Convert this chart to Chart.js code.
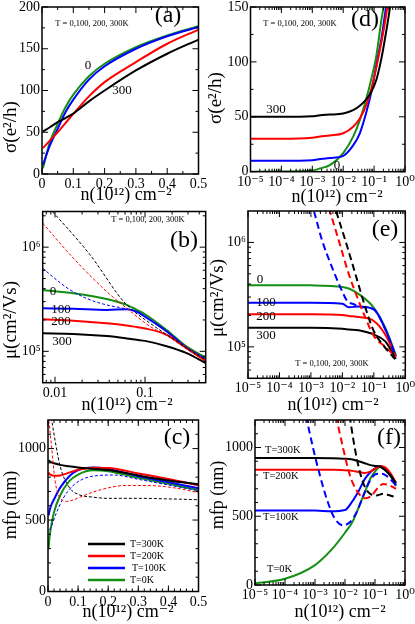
<!DOCTYPE html>
<html>
<head>
<meta charset="utf-8">
<script src="https://cdn.jsdelivr.net/npm/chart.js@4.4.0/dist/chart.umd.min.js"></script>
<style>
  html, body { margin: 0; padding: 0; background: #fff; }
  #wrap { position: relative; width: 415px; height: 624px; }
  #wrap canvas { position: absolute; left: 0; top: 0; }
</style>
</head>
<body>
<div id="wrap">
  <canvas id="ca" width="415" height="624"></canvas>
  <canvas id="cb" width="415" height="624"></canvas>
  <canvas id="cc" width="415" height="624"></canvas>
  <canvas id="cd" width="415" height="624"></canvas>
  <canvas id="ce" width="415" height="624"></canvas>
  <canvas id="cf" width="415" height="624"></canvas>
</div>
<script>
// ---- data ----

// (a) conductivity, linear n
const nA = [0.003, 0.025, 0.05, 0.075, 0.1, 0.15, 0.2, 0.3, 0.4, 0.5];
const sigA0 = [7, 38, 60, 80, 95, 117, 132, 152, 166, 177];
const sigA100 = [11, 34, 54, 74, 89, 113, 129, 150, 165, 176];
const sigA200 = [31, 40, 50, 61, 72, 93, 110, 134, 156, 173];
const sigA300 = [51, 56, 62, 67, 72.5, 87, 100, 124, 144, 161];

// (d) conductivity, log n
const nD = [1e-5, 1e-4, 1e-3, 0.0018, 0.0037, 0.01, 0.021, 0.0345, 0.0566, 0.082, 0.119, 0.172, 0.237, 0.32, 0.5];
const sigD0 = [0, 0.1, 1, 3, 6, 17, 32, 47, 67, 85, 106, 138, 162, 190, 230];
const sigD100 = [10, 10, 10.5, 11.5, 12.5, 14.5, 24, 35, 54.5, 73, 97, 121, 148, 175, 220];
const sigD200 = [30, 30, 31, 32, 33, 35, 41, 48.5, 61, 76, 95.5, 118, 140, 165, 210];
const sigD300 = [50, 50, 50.5, 51.5, 52, 53, 56, 60, 66, 73, 84, 103, 125, 148, 195];

// (b) mobility, solid
const nB = [0.0073, 0.016, 0.0375, 0.0627, 0.081, 0.1, 0.174, 0.29, 0.472];
const muB0 = [3.89e5, 3.61e5, 3.18e5, 2.79e5, 2.5e5, 2.27e5, 1.60e5, 1.11e5, 8.7e4];
const muB100 = [2.59e5, 2.56e5, 2.50e5, 2.54e5, 2.40e5, 2.15e5, 1.55e5, 1.08e5, 8.4e4];
const muB200 = [2.03e5, 1.97e5, 1.86e5, 1.77e5, 1.71e5, 1.66e5, 1.44e5, 1.07e5, 8.1e4];
const muB300 = [1.49e5, 1.47e5, 1.40e5, 1.33e5, 1.29e5, 1.26e5, 1.12e5, 9.6e4, 7.7e4];
// (b) dashed
const nBd100 = [0.0073, 0.0104, 0.0147, 0.0245, 0.0375, 0.0575, 0.081, 0.1, 0.174, 0.29, 0.472];
const muBd100 = [6.29e5, 4.85e5, 3.89e5, 3.12e5, 2.79e5, 2.59e5, 2.40e5, 2.15e5, 1.55e5, 1.08e5, 8.4e4];
const nBd200 = [0.0073, 0.016, 0.0375, 0.0627, 0.114, 0.174, 0.29, 0.472];
const muBd200 = [1.70e6, 7.83e5, 3.75e5, 2.59e5, 1.73e5, 1.42e5, 1.05e5, 8.0e4];
const nBd300 = [0.0073, 0.0245, 0.06, 0.114, 0.207, 0.33, 0.472];
const muBd300 = [2.8e6, 8.44e5, 2.9e5, 1.86e5, 1.31e5, 1.0e5, 8.3e4];

// (e) mobility, log n, solid
const nE = [1e-5, 1e-4, 1e-3, 0.01, 0.016, 0.033, 0.1, 0.232, 0.5];
const muE0 = [3.89e5, 3.89e5, 3.88e5, 3.75e5, 3.62e5, 3.2e5, 2.37e5, 1.52e5, 8.4e4];
const muE100 = [2.65e5, 2.65e5, 2.65e5, 2.59e5, 2.4e5, 2.43e5, 2.28e5, 1.47e5, 8.1e4];
const muE200 = [2.05e5, 2.05e5, 2.05e5, 2.02e5, 1.98e5, 1.93e5, 1.77e5, 1.31e5, 8.1e4];
const muE300 = [1.52e5, 1.52e5, 1.52e5, 1.49e5, 1.47e5, 1.44e5, 1.31e5, 1.13e5, 7.7e4];
// (e) dashed
const nEd100 = [1e-3, 1.24e-3, 2.28e-3, 4.72e-3, 0.00975, 0.0142, 0.023, 0.033, 0.1, 0.232, 0.5];
const muEd100 = [2.5e6, 2.01e6, 1.04e6, 5.75e5, 3.43e5, 2.75e5, 2.56e5, 2.43e5, 2.28e5, 1.47e5, 8.1e4];
const nEd200 = [0.003, 0.004, 0.0077, 0.016, 0.033, 0.054, 0.1, 0.232, 0.5];
const muEd200 = [2.7e6, 2.0e6, 1.04e6, 4.97e5, 2.75e5, 1.9e5, 1.27e5, 1.0e5, 8.0e4];
const nEd300 = [0.005, 0.0063, 0.0125, 0.026, 0.054, 0.1, 0.232, 0.5];
const muEd300 = [2.5e6, 2.0e6, 1.04e6, 4.97e5, 2.37e5, 1.41e5, 9.8e4, 7.5e4];

// (c) mean free path, linear n
const nC = [0.002, 0.005, 0.01, 0.02, 0.04, 0.07, 0.1, 0.15, 0.2, 0.3, 0.4, 0.5];
const mfpC0 = [301, 380, 450, 555, 670, 770, 818, 848, 842, 795, 754, 708];
const mfpC100 = [532, 565, 600, 645, 725, 805, 850, 868, 858, 806, 765, 722];
const mfpC200 = [833, 822, 815, 810, 812, 832, 852, 866, 864, 826, 787, 743];
const mfpC300 = [919, 912, 905, 897, 886, 876, 867, 858, 850, 812, 777, 750];
const nCd100 = [0.005, 0.01, 0.025, 0.05, 0.08, 0.12, 0.17, 0.22, 0.3, 0.4, 0.5];
const mfpCd100 = [430, 450, 535, 650, 735, 790, 812, 815, 785, 745, 705];
const nCd200 = [0.001, 0.012, 0.023, 0.04, 0.062, 0.09, 0.118, 0.18, 0.26, 0.34, 0.42, 0.5];
const mfpCd200 = [1230, 1010, 780, 655, 630, 645, 671, 715, 742, 741, 725, 692];
const nCd300 = [0.008, 0.012, 0.04, 0.07, 0.1, 0.15, 0.2, 0.3, 0.4, 0.5];
const mfpCd300 = [1250, 1200, 880, 730, 680, 660, 652, 652, 648, 642];

// (f) mean free path, log n
const nF = [1e-5, 1e-4, 1e-3, 0.0035, 0.01, 0.0178, 0.028, 0.045, 0.07, 0.1, 0.15, 0.22, 0.32, 0.5];
const mfpF0 = [12, 45, 145, 255, 380, 460, 560, 670, 775, 825, 860, 835, 795, 720];
const mfpF100 = [542, 542, 542, 536, 545, 610, 680, 768, 820, 848, 866, 848, 805, 728];
const mfpF200 = [839, 839, 839, 838, 835, 830, 822, 815, 825, 845, 866, 855, 815, 745];
const mfpF300 = [923, 923, 923, 922, 918, 912, 900, 886, 872, 866, 860, 835, 800, 740];
const nFd100 = [5e-4, 8.8e-4, 1.47e-3, 2.45e-3, 4.6e-3, 8.8e-3, 0.0147, 0.0245, 0.041, 0.068, 0.11, 0.17, 0.24, 0.5];
const mfpFd100 = [1230, 988, 795, 627, 482, 434, 458, 530, 651, 759, 807, 810, 795, 725];
const nFd200 = [5e-3, 8.8e-3, 0.0147, 0.0245, 0.0464, 0.077, 0.13, 0.19, 0.32, 0.5];
const mfpFd200 = [1230, 988, 795, 687, 631, 651, 711, 735, 723, 699];
const nFd300 = [0.0142, 0.0215, 0.0316, 0.0464, 0.068, 0.11, 0.19, 0.32, 0.5];
const mfpFd300 = [1230, 988, 819, 711, 663, 651, 663, 651, 639];

// ---- ticks ----
const linTicks = [0, 0.1, 0.2, 0.3, 0.4, 0.5];
const linTickLabels = ['0', '0.1', '0.2', '0.3', '0.4', '0.5'];
const decTicks = [1e-5, 1e-4, 1e-3, 1e-2, 1e-1, 1];
const decTickLabels = ['10\u207B\u2075', '10\u207B\u2074', '10\u207B\u00B3', '10\u207B\u00B2', '10\u207B\u00B9', '10\u2070'];
const bTicks = [0.01, 0.1];
const bTickLabels = ['0.01', '0.1'];
const muTicks = [1e5, 1e6];
const muTickLabels = ['10\u2075', '10\u2076'];
const sigATicks = [0, 50, 100, 150, 200];
const sigDTicks = [0, 50, 100, 150];
const mfpTicks = [0, 500, 1000];

// ---- helpers ----
const SERIF = "'Liberation Serif', 'DejaVu Serif', serif";
const BLACK = '#000000', RED = '#ff0000', BLUE = '#0000ff', GREEN = '#138f13';

function range(a, b, s) { const r = []; for (let v = a; v <= b + 1e-9; v += s) r.push(+v.toFixed(6)); return r; }
function logMinor(lo, hi) {
  const r = [];
  for (let e = lo; e < hi; e++) for (let m = 2; m <= 9; m++) r.push(m * Math.pow(10, e));
  return r;
}

function line(xs, ys, color, dash) {
  return {
    data: xs.map((v, i) => ({ x: v, y: ys[i] })),
    borderColor: color,
    borderWidth: dash === 'thin' ? 1 : 2,
    borderDash: dash === 'thin' ? [3, 2] : dash === 'long' ? [7, 4] : [],
    pointRadius: 0,
    cubicInterpolationMode: 'monotone',
    fill: false
  };
}

function axis(type, min, max, ticks, labels) {
  return {
    type, min, max, bounds: 'data',
    afterBuildTicks: s => { s.ticks = ticks.map(v => ({ value: v })); },
    ticks: {
      callback: (v, i) => labels[i],
      autoSkip: false, maxRotation: 0, minRotation: 0, padding: 2,
      color: '#000', font: { family: SERIF, size: 14 }
    },
    grid: { display: false, drawTicks: false },
    border: { display: false }
  };
}

function makeDeco(cfg) {
  return {
    id: 'deco',
    afterDatasetsDraw(chart) {
      const ctx = chart.ctx, a = chart.chartArea, sx = chart.scales.x, sy = chart.scales.y;
      ctx.save();
      ctx.strokeStyle = '#000';
      ctx.lineWidth = 1;
      ctx.beginPath();
      const xt = (vals, len) => vals.forEach(v => {
        const p = sx.getPixelForValue(v);
        ctx.moveTo(p, a.bottom); ctx.lineTo(p, a.bottom - len);
        ctx.moveTo(p, a.top); ctx.lineTo(p, a.top + len);
      });
      const yt = (vals, len) => vals.forEach(v => {
        const p = sy.getPixelForValue(v);
        ctx.moveTo(a.left, p); ctx.lineTo(a.left + len, p);
        ctx.moveTo(a.right, p); ctx.lineTo(a.right - len, p);
      });
      xt(cfg.xMajor, 6); xt(cfg.xMinor, 3);
      yt(cfg.yMajor, 6); yt(cfg.yMinor, 3);
      ctx.stroke();
      ctx.lineWidth = 1.5;
      ctx.strokeRect(a.left, a.top, a.right - a.left, a.bottom - a.top);
      (cfg.keys || []).forEach(k => {
        ctx.strokeStyle = k[0];
        ctx.lineWidth = 2.5;
        ctx.beginPath(); ctx.moveTo(k[1], k[3]); ctx.lineTo(k[2], k[3]); ctx.stroke();
      });
      ctx.fillStyle = '#000';
      ctx.textBaseline = 'middle';
      cfg.texts.forEach(t => {
        ctx.font = t[3] + 'px ' + SERIF;
        ctx.textAlign = t[4] || 'center';
        ctx.save();
        ctx.translate(t[1], t[2]);
        if (t[5]) ctx.rotate(-Math.PI / 2);
        ctx.fillText(t[0], 0, 0);
        ctx.restore();
      });
      ctx.restore();
    }
  };
}

// area = [left, right, top, bottom] of the plot frame in page pixels
function panel(id, area, xScale, yScale, datasets, deco) {
  const yw = 40, xh = 24;
  xScale.afterFit = s => { s.height = xh; s.paddingLeft = 0; s.paddingRight = 0; };
  yScale.afterFit = s => { s.width = yw; s.paddingTop = 0; s.paddingBottom = 0; };
  return new Chart(document.getElementById(id), {
    type: 'line',
    data: { datasets },
    options: {
      responsive: false,
      animation: false,
      devicePixelRatio: 1,
      layout: { padding: { left: area[0] - yw, right: 415 - area[1], top: area[2], bottom: 624 - area[3] - xh } },
      plugins: { legend: { display: false }, tooltip: { enabled: false } },
      scales: { x: xScale, y: yScale }
    },
    plugins: [makeDeco(deco)]
  });
}

const XT = 'n(10\u00B9\u00B2) cm\u207B\u00B2';
const TT = 'T = 0,100, 200, 300K';

// (a)
panel('ca', [42, 198.5, 7, 174],
  axis('linear', 0, 0.5, linTicks, linTickLabels),
  axis('linear', 0, 200, sigATicks, sigATicks.map(String)),
  [
    line(nA, sigA300, BLACK), line(nA, sigA200, RED),
    line(nA, sigA100, BLUE), line(nA, sigA0, GREEN)
  ],
  {
    xMajor: linTicks, xMinor: range(0.05, 0.45, 0.1),
    yMajor: sigATicks, yMinor: range(25, 175, 50),
    texts: [
      ['(a)', 168, 16, 24], [TT, 92, 24, 8.5], ['0', 88, 66, 13], ['300', 122, 91, 13],
      ['\u03C3(e\u00B2/h)', 11, 127, 19, 'center', true], [XT, 126, 195, 18]
    ]
  });

// (d)
panel('cd', [250.5, 405, 7, 171.7],
  axis('logarithmic', 1e-5, 1, decTicks, decTickLabels),
  axis('linear', 0, 150, sigDTicks, sigDTicks.map(String)),
  [
    line(nD, sigD300, BLACK), line(nD, sigD200, RED),
    line(nD, sigD100, BLUE), line(nD, sigD0, GREEN)
  ],
  {
    xMajor: decTicks, xMinor: logMinor(-5, 0),
    yMajor: sigDTicks, yMinor: range(25, 125, 50),
    texts: [
      ['(d)', 365, 20, 24], [TT, 300, 24, 8.5], ['300', 276, 110, 13], ['0', 337, 166, 13],
      ['\u03C3(e\u00B2/h)', 216, 98, 19, 'center', true], [XT, 337, 197, 18]
    ]
  });

// (b)
panel('cb', [42.7, 205.7, 211.5, 382.7],
  axis('logarithmic', 0.0073, 0.472, bTicks, bTickLabels),
  axis('logarithmic', 5e4, 2.2e6, muTicks, muTickLabels),
  [
    line(nBd300, muBd300, BLACK, 'thin'), line(nBd200, muBd200, RED, 'thin'),
    line(nBd100, muBd100, BLUE, 'thin'),
    line(nB, muB300, BLACK), line(nB, muB200, RED),
    line(nB, muB100, BLUE), line(nB, muB0, GREEN)
  ],
  {
    xMajor: bTicks, xMinor: [0.008, 0.009].concat(logMinor(-2, -1), [0.2, 0.3, 0.4]),
    yMajor: muTicks, yMinor: [6e4, 7e4, 8e4, 9e4].concat(logMinor(5, 6), [2e6]),
    texts: [
      ['(b)', 184, 241, 24], [TT, 148, 220, 8.5],
      ['0', 53, 292, 13], ['100', 61, 310, 13], ['200', 61, 322, 13], ['300', 62, 342, 13],
      ['\u03BC(cm\u00B2/Vs)', 11, 320, 19, 'center', true], [XT, 127, 405, 18]
    ]
  });

// (e)
panel('ce', [248, 405.3, 211, 378.3],
  axis('logarithmic', 1e-5, 1, decTicks, decTickLabels),
  axis('logarithmic', 5e4, 2e6, muTicks, muTickLabels),
  [
    line(nEd300, muEd300, BLACK, 'long'), line(nEd200, muEd200, RED, 'long'),
    line(nEd100, muEd100, BLUE, 'long'),
    line(nE, muE300, BLACK), line(nE, muE200, RED),
    line(nE, muE100, BLUE), line(nE, muE0, GREEN)
  ],
  {
    xMajor: decTicks, xMinor: logMinor(-5, 0),
    yMajor: muTicks, yMinor: [6e4, 7e4, 8e4, 9e4].concat(logMinor(5, 6)),
    texts: [
      ['(e)', 385, 230, 24], [TT, 332, 364, 8.5],
      ['0', 260, 280, 13], ['100', 266, 303, 13], ['200', 266, 317, 13], ['300', 266, 336, 13],
      ['\u03BC(cm\u00B2/Vs)', 218, 298, 19, 'center', true], [XT, 333, 405, 18]
    ]
  });

// (c)
panel('cc', [48, 198.5, 420, 591.5],
  axis('linear', 0, 0.5, linTicks, linTickLabels),
  axis('linear', 0, 1200, mfpTicks, mfpTicks.map(String)),
  [
    line(nCd300, mfpCd300, BLACK, 'thin'), line(nCd200, mfpCd200, RED, 'thin'),
    line(nCd100, mfpCd100, BLUE, 'thin'),
    line(nC, mfpC300, BLACK), line(nC, mfpC200, RED),
    line(nC, mfpC100, BLUE), line(nC, mfpC0, GREEN)
  ],
  {
    xMajor: linTicks, xMinor: range(0.02, 0.48, 0.02),
    yMajor: mfpTicks, yMinor: [100, 200, 300, 400, 600, 700, 800, 900, 1100],
    keys: [[BLACK, 88, 125, 544], [RED, 88, 125, 556], [BLUE, 88, 125, 568], [GREEN, 88, 125, 580]],
    texts: [
      ['(c)', 177, 438, 24],
      ['T=300K', 130, 544, 10, 'left'], ['T=200K', 130, 556, 10, 'left'],
      ['T=100K', 132, 568, 10, 'left'], ['T=0K', 130, 580, 10, 'left'],
      ['mfp (nm)', 11, 505, 18, 'center', true], [XT, 128, 612, 18]
    ]
  });

// (f)
panel('cf', [255, 405, 420, 585],
  axis('logarithmic', 1e-5, 1, decTicks, decTickLabels),
  axis('linear', 0, 1200, mfpTicks, mfpTicks.map(String)),
  [
    line(nFd300, mfpFd300, BLACK, 'long'), line(nFd200, mfpFd200, RED, 'long'),
    line(nFd100, mfpFd100, BLUE, 'long'),
    line(nF, mfpF300, BLACK), line(nF, mfpF200, RED),
    line(nF, mfpF100, BLUE), line(nF, mfpF0, GREEN)
  ],
  {
    xMajor: decTicks, xMinor: logMinor(-5, 0),
    yMajor: mfpTicks, yMinor: [100, 200, 300, 400, 600, 700, 800, 900, 1100],
    texts: [
      ['(f)', 389, 438, 24],
      ['T=300K', 265, 450, 10.5, 'left'], ['T=200K', 263, 476, 10.5, 'left'],
      ['T=100K', 263, 517, 10.5, 'left'], ['T=0K', 267, 569, 10.5, 'left'],
      ['mfp (nm)', 218, 495, 18, 'center', true], [XT, 340, 612, 18]
    ]
  });
</script>
</body>
</html>
